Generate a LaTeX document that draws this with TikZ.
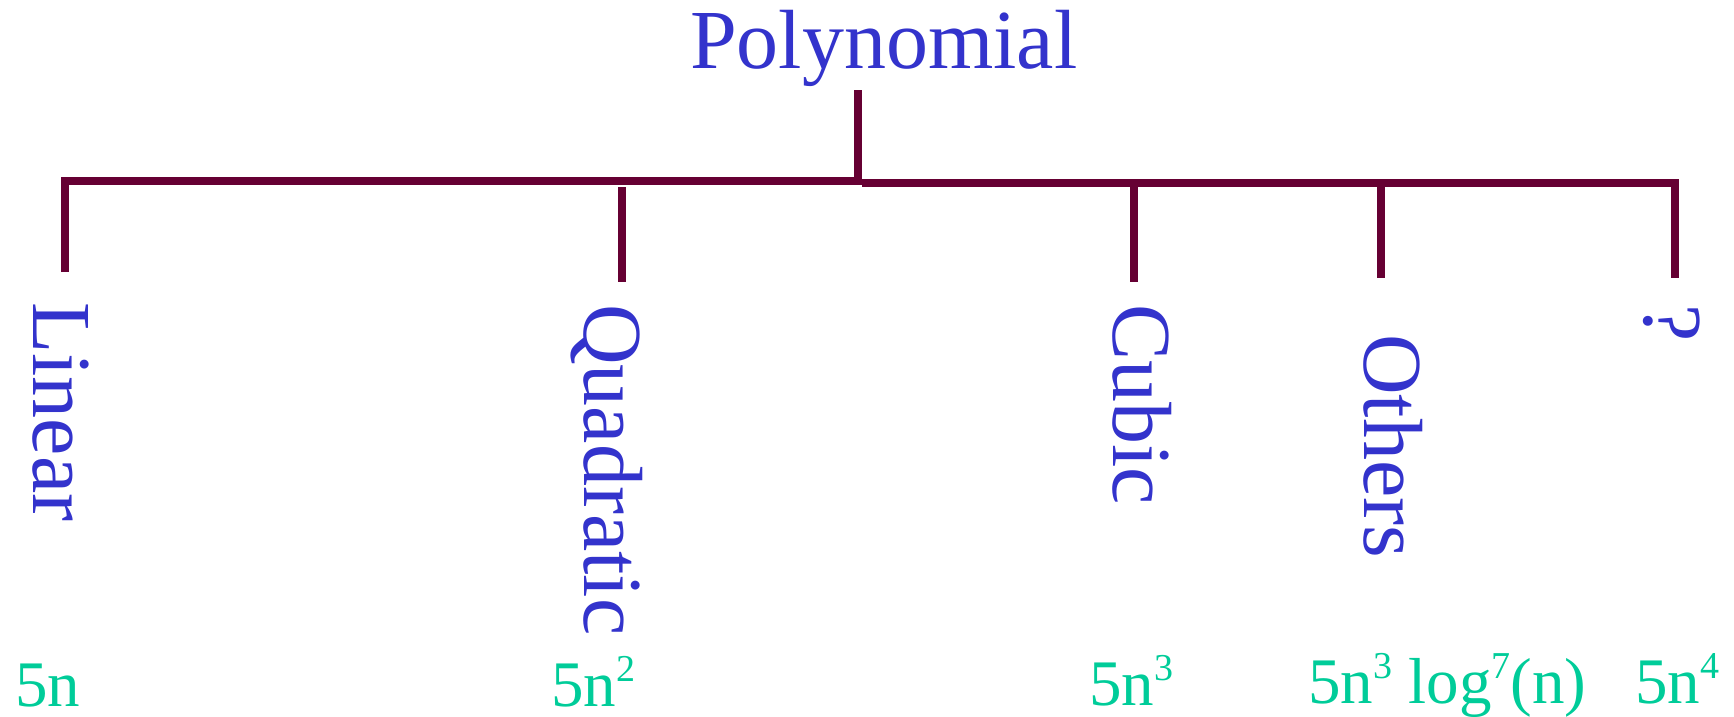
\documentclass[tikz,border=0pt]{standalone}
\usepackage{fontspec}
\setmainfont{Liberation Serif}
\definecolor{tblue}{RGB}{51,51,204}
\definecolor{tgreen}{RGB}{0,204,153}
\definecolor{tmaroon}{RGB}{102,0,51}
\newcommand{\mysup}[1]{\raisebox{25pt}{\fontsize{38pt}{38pt}\selectfont #1}}
\begin{document}
\begin{tikzpicture}[x=1pt,y=-1pt,
  cat/.style={font=\fontsize{84pt}{84pt}\selectfont, text=tblue, inner sep=0pt},
  vcat/.style={cat, rotate=-90, anchor=base west},
  formula/.style={font=\fontsize{65pt}{65pt}\selectfont, text=tgreen, inner sep=0pt, anchor=base west},
  bar/.style={draw=tmaroon, line width=8pt, line join=miter, line cap=butt}]
\useasboundingbox (0,0) rectangle (1734,717);
% category labels
\node[cat, anchor=base west] (poly) at (690,68) {Polynomial};
\node[vcat] (lin) at (33,302) {Linear};
\node[vcat] (quad) at (584,304) {Quadratic};
\node[vcat] (cub) at (1113,304) {Cubic};
\node[vcat] (oth) at (1364,334) {Others};
\node[vcat] (unk) at (1644,304) {?};
% formulas
\node[formula] (f1) at (15,706) {5n};
\node[formula] (f2) at (551,706) {5n\mysup{2}};
\node[formula] (f3) at (1089,705) {5n\mysup{3}};
\node[formula] (f4) at (1308,703) {5n\mysup{3} log\mysup{7}(n)};
\node[formula] (f5) at (1635,703) {5n\mysup{4}};
% tree connectors
\coordinate (root) at (858,90);
\coordinate (jl) at (862,181);
\coordinate (jr) at (862,183);
\coordinate (cl) at (65,181);
\coordinate (cr) at (1675,183);
\coordinate (lEnd) at (65,272);
\coordinate (qTop) at (622,187);
\coordinate (qEnd) at (622,282);
\coordinate (cTop) at (1134,187);
\coordinate (cEnd) at (1134,282);
\coordinate (oTop) at (1381,187);
\coordinate (oEnd) at (1381,278);
\coordinate (uEnd) at (1675,278);
\draw[bar] (root) -- (858,185);
\draw[bar] (lEnd) -- (cl) -- (jl);
\draw[bar] (jr) -- (cr) -- (uEnd);
\draw[bar] (qTop) -- (qEnd);
\draw[bar] (cTop) -- (cEnd);
\draw[bar] (oTop) -- (oEnd);
\end{tikzpicture}
\end{document}
